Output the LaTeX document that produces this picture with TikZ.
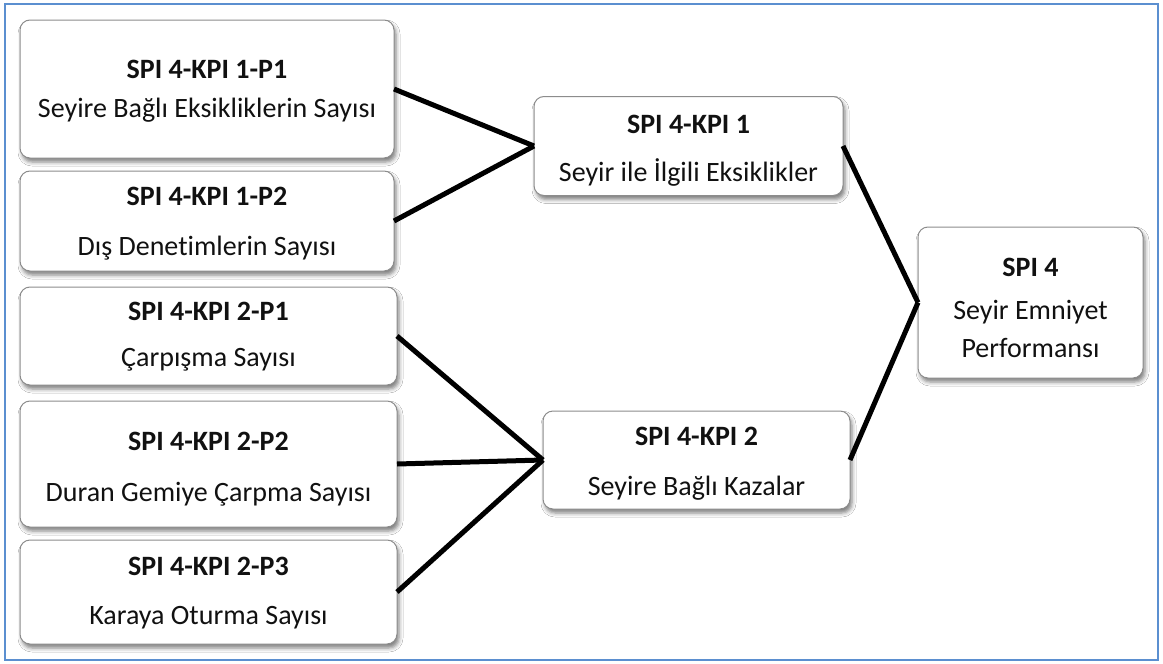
\documentclass[tikz,border=0pt]{standalone}
\usepackage{fontspec}
\setmainfont{Carlito}[Ligatures=NoCommon]
\usetikzlibrary{shadows.blur}
\definecolor{framblue}{HTML}{5B8FD0}
\definecolor{boxgray}{HTML}{8C8C8C}
\definecolor{txt}{HTML}{111111}
\begin{document}
\begin{tikzpicture}[x=1pt,y=-1pt,
  box/.style={draw=boxgray, line width=1pt, rounded corners=10pt, fill=white,
    inner sep=0pt, outer sep=0pt,
    blur shadow={shadow xshift=2pt, shadow yshift=-4pt, shadow blur radius=4pt, shadow opacity=50}},
  ttl/.style={font=\fontsize{28}{32}\selectfont\bfseries, text=txt, inner sep=0pt},
  sub/.style={font=\fontsize{28}{32}\selectfont, text=txt, inner sep=0pt},
  link/.style={line width=5pt, draw=black},
  frm/.style={draw=framblue, line width=1.5pt}]
\useasboundingbox (0,0) rectangle (1163,664);
\fill[white] (0,0) rectangle (1163,664);
\draw[frm] (5,4) rectangle (1158,660);

% left column
\node[box, minimum width=374pt, minimum height=138pt] (p1) at (207,89) {};
\node[box, minimum width=374pt, minimum height=100pt] (p2) at (207,221) {};
\node[box, minimum width=377pt, minimum height=98pt] (p3) at (208.5,336) {};
\node[box, minimum width=377pt, minimum height=126pt] (p4) at (208.5,464) {};
\node[box, minimum width=377pt, minimum height=104pt] (p5) at (208.5,592) {};
% middle column
\node[box, minimum width=309pt, minimum height=99pt] (k1) at (688.5,146) {};
\node[box, minimum width=307pt, minimum height=98pt] (k2) at (696.5,460) {};
% right
\node[box, minimum width=225pt, minimum height=151pt] (s4) at (1030.5,302.5) {};

% texts
\node[ttl] (p1t) at (207,69) {SPI 4-KPI 1-P1};
\node[sub] (p1s) at (207,110) {Seyire Bağlı Eksikliklerin Sayısı};
\node[ttl] (p2t) at (207,196) {SPI 4-KPI 1-P2};
\node[sub] (p2s) at (207,248) {Dış Denet\kern0pt imlerin Sayısı};
\node[ttl] (p3t) at (208.5,311) {SPI 4-KPI 2-P1};
\node[sub] (p3s) at (208.5,360) {Çarpışma Sayısı};
\node[ttl] (p4t) at (208.5,441) {SPI 4-KPI 2-P2};
\node[sub] (p4s) at (208.5,494) {Duran Gemiye Çarpma Sayısı};
\node[ttl] (p5t) at (208.5,566) {SPI 4-KPI 2-P3};
\node[sub] (p5s) at (208.5,618) {Karaya Oturma Sayısı};
\node[ttl] (k1t) at (688.5,124) {SPI 4-KPI 1};
\node[sub] (k1s) at (688.5,172) {Seyir ile İlgili Eksiklikler};
\node[ttl] (k2t) at (696.5,436) {SPI 4-KPI 2};
\node[sub] (k2s) at (696.5,488) {Seyire Bağlı Kazalar};
\node[ttl] (s4t) at (1030.5,267) {SPI 4};
\node[sub] (s4s) at (1030.5,312) {Seyir Emniyet};
\node[sub] (s4p) at (1030.5,348) {Performansı};

% connectors
\draw[link] (p1.east) -- (k1.west);
\draw[link] (p2.east) -- (k1.west);
\draw[link] (p3.east) -- (k2.west);
\draw[link] (p4.east) -- (k2.west);
\draw[link] (p5.east) -- (k2.west);
\draw[link] (k1.east) -- (s4.west);
\draw[link] (k2.east) -- (s4.west);
\end{tikzpicture}
\end{document}
